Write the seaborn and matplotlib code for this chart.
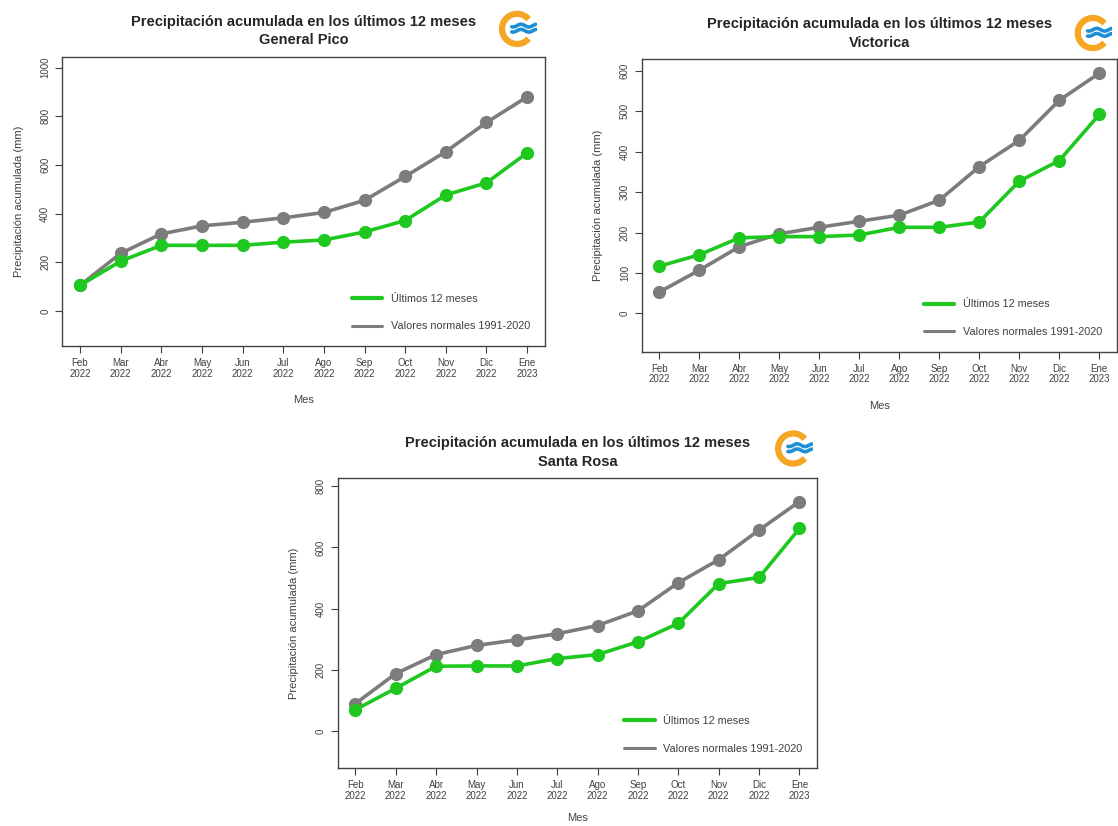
import numpy as np
import pandas as pd
import matplotlib
matplotlib.use("Agg")
import matplotlib.pyplot as plt
from matplotlib.lines import Line2D
from matplotlib.patches import Arc
import seaborn as sns

# month labels (x axis)
months = ["Feb\n2022", "Mar\n2022", "Abr\n2022", "May\n2022", "Jun\n2022", "Jul\n2022",
          "Ago\n2022", "Sep\n2022", "Oct\n2022", "Nov\n2022", "Dic\n2022", "Ene\n2023"]
month_idx = list(range(1, 13))

# accumulated precipitation (mm)
pico_last12 = [105, 205, 270, 270, 270, 283, 292, 325, 372, 477, 527, 650]
pico_normal = [105, 237, 317, 350, 365, 383, 405, 455, 553, 655, 775, 880]

victorica_last12 = [117, 145, 187, 190, 190, 194, 213, 213, 226, 327, 378, 492]
victorica_normal = [53, 107, 165, 197, 213, 228, 243, 280, 363, 428, 527, 594]

rosa_last12 = [70, 140, 212, 213, 213, 237, 250, 292, 352, 482, 502, 662]
rosa_normal = [90, 188, 250, 280, 298, 318, 345, 393, 485, 560, 657, 750]

stations = ["General Pico", "Victorica", "Santa Rosa"]
y_ticks = [[0, 200, 400, 600, 800, 1000], [0, 100, 200, 300, 400, 500, 600], [0, 200, 400, 600, 800]]

GREEN = "#1ec81e"
GRAY = "#7c7c7c"
TXT = "#404040"

sns.set_style("ticks")
plt.rcParams["font.family"] = ["Liberation Sans", "DejaVu Sans"]


def draw_logo(fig, rect):
    lax = fig.add_axes(rect)
    lax.set_xlim(-1.3, 1.3)
    lax.set_ylim(-1.3, 1.3)
    lax.set_aspect("equal")
    lax.axis("off")
    lax.add_patch(Arc((0, 0), 2.0, 2.0, theta1=40, theta2=320, lw=4.5, color="#f5a623"))
    t = np.linspace(-0.35, 1.25, 60)
    for off in (0.22, -0.12):
        lax.plot(t, off + 0.09 * np.sin(t * 6), color="#1e8fd6", lw=2.6, solid_capstyle="round")


def panel(fig, rect, station, last12, normal, ylim, yticks, logo_rect, xpad):
    ax = fig.add_axes(rect)
    df = pd.DataFrame({"mes": month_idx, "last": last12, "normal": normal})
    sns.lineplot(data=df, x="mes", y="normal", ax=ax, color=GRAY, lw=2.6,
                 marker="o", markersize=9.5, markeredgewidth=0)
    sns.lineplot(data=df, x="mes", y="last", ax=ax, color=GREEN, lw=2.6,
                 marker="o", markersize=9.5, markeredgewidth=0)
    ax.set_xlim(0.56, 12.44)
    ax.set_ylim(*ylim)
    ax.set_xticks(month_idx)
    ax.set_xticklabels(months, fontsize=7, color=TXT, linespacing=1.1)
    ax.set_yticks(yticks)
    ax.set_yticklabels([str(v) for v in yticks], fontsize=7, color=TXT,
                       rotation=90, va="center")
    ax.tick_params(length=5, width=0.8, color=TXT)
    for s in ax.spines.values():
        s.set_visible(True)
        s.set_color("#444444")
        s.set_linewidth(1.0)
    ax.set_xlabel("Mes", fontsize=8, color=TXT, labelpad=xpad)
    ax.set_ylabel("Precipitación acumulada (mm)", fontsize=8, color=TXT, labelpad=12)
    ax.set_title("Precipitación acumulada en los últimos 12 meses\n" + station,
                 fontsize=10.5, fontweight="bold", pad=9, linespacing=1.45)
    handles = [Line2D([], [], color=GREEN, lw=3), Line2D([], [], color=GRAY, lw=2.2)]
    ax.legend(handles, ["Últimos 12 meses", "Valores normales 1991-2020"],
              loc="lower right", frameon=False, fontsize=7.8, handlelength=2.8,
              labelspacing=1.65, borderaxespad=0.95, labelcolor=TXT)
    draw_logo(fig, logo_rect)
    return ax


fig = plt.figure(figsize=(11.18, 8.26), dpi=100)
panel(fig, [0.0555, 0.581, 0.432, 0.350], stations[0], pico_last12, pico_normal,
      (-144, 1044), y_ticks[0], [0.445, 0.94, 0.035, 0.05], 12)
panel(fig, [0.574, 0.574, 0.425, 0.354], stations[1], victorica_last12, victorica_normal,
      (-95, 628), y_ticks[1], [0.960, 0.935, 0.035, 0.05], 12)
panel(fig, [0.302, 0.070, 0.429, 0.351], stations[2], rosa_last12, rosa_normal,
      (-121, 826), y_ticks[2], [0.692, 0.432, 0.035, 0.05], 9)

fig.savefig("out.png", dpi=100)
